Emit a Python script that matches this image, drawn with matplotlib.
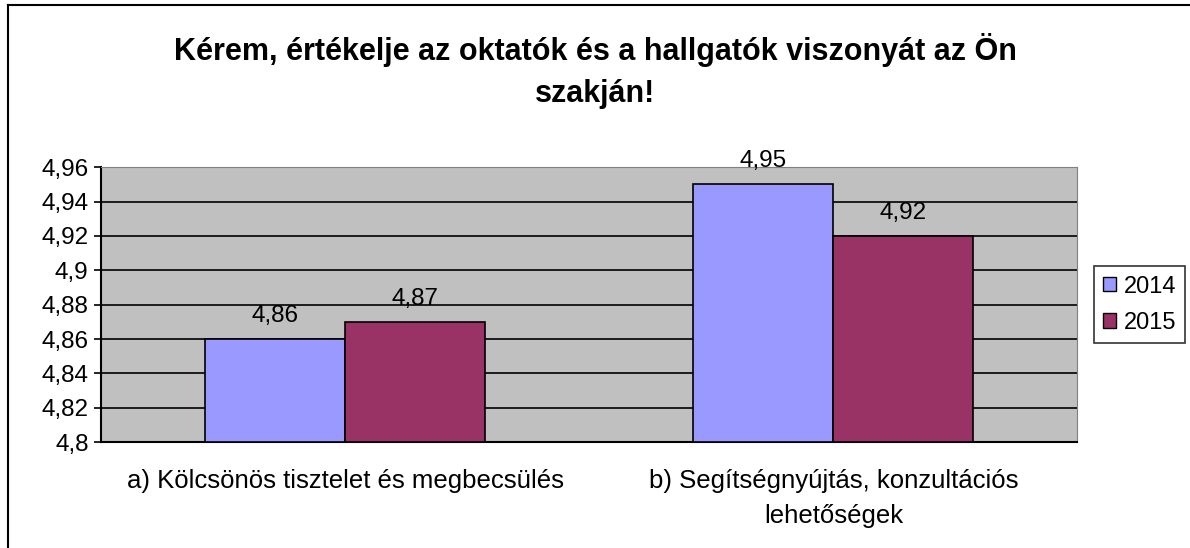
import numpy as np
import matplotlib.pyplot as plt
from matplotlib.ticker import FuncFormatter

plt.rcParams['font.family'] = ['Liberation Sans', 'DejaVu Sans']

categories = ["a) Kölcsönös tisztelet és megbecsülés",
              "b) Segítségnyújtás, konzultációs\nlehetőségek"]
years = ["2014", "2015"]
values_2014 = [4.86, 4.95]
values_2015 = [4.87, 4.92]
colors = ["#9999FF", "#993366"]

fig = plt.figure(figsize=(11.9, 5.48), dpi=100)
ax = fig.add_axes([0.0849, 0.193, 0.8205, 0.502])
ax.set_facecolor("#C0C0C0")

# figure frame (only left/top visible in the original)
fig.add_artist(plt.Line2D([0.0067, 0.0067], [0, 0.991], color="black", lw=1.5, transform=fig.transFigure))
fig.add_artist(plt.Line2D([0.0067, 1.0], [0.991, 0.991], color="black", lw=1.5, transform=fig.transFigure))

x = np.arange(len(categories))
w = 0.287
for i, (vals, col, yr) in enumerate(zip([values_2014, values_2015], colors, years)):
    pos = x - w / 2 + i * w
    ax.bar(pos, np.array(vals) - 4.8, bottom=4.8, width=w, color=col,
           edgecolor="black", linewidth=1.2, label=yr, zorder=3)
    for p, v in zip(pos, vals):
        ax.text(p, v + 0.0135, f"{v:.2f}".replace(".", ","), ha="center", va="center",
                fontsize=17.5, zorder=4, clip_on=False)

ax.set_ylim(4.8, 4.96)
ax.set_xlim(-0.5, 1.5)
ax.set_yticks(np.arange(4.8, 4.9601, 0.02))
ax.yaxis.set_major_formatter(FuncFormatter(lambda v, _: f"{v:.2f}".rstrip("0").rstrip(".").replace(".", ",")))
ax.yaxis.grid(True, color="black", linewidth=1.2, zorder=0)
ax.set_axisbelow(True)
ax.set_xticks(x)
ax.set_xticklabels(categories, fontsize=18.5, linespacing=1.6)
ax.tick_params(axis="x", length=0, pad=19)
ax.tick_params(axis="y", labelsize=17.5, length=5, width=1.2, direction="out", pad=4)
ax.spines["left"].set_linewidth(1.5)
ax.spines["bottom"].set_linewidth(1.5)
ax.spines["top"].set_color("#808080")
ax.spines["right"].set_color("#808080")

fig.text(0.5, 0.870, "Kérem, értékelje az oktatók és a hallgatók viszonyát az Ön\nszakján!",
         ha="center", va="center", fontsize=22, fontweight="bold", linespacing=1.5)

leg = ax.legend(loc="center left", bbox_to_anchor=(1.017, 0.5), fontsize=17, frameon=True,
                fancybox=False, edgecolor="black", handlelength=0.55, handleheight=0.55,
                handletextpad=0.3, borderpad=0.4, labelspacing=0.6, borderaxespad=0)
leg.get_frame().set_linewidth(1.2)
for h in leg.legend_handles:
    h.set_edgecolor("black")
    h.set_linewidth(1)

fig.savefig("out.png", dpi=100)
